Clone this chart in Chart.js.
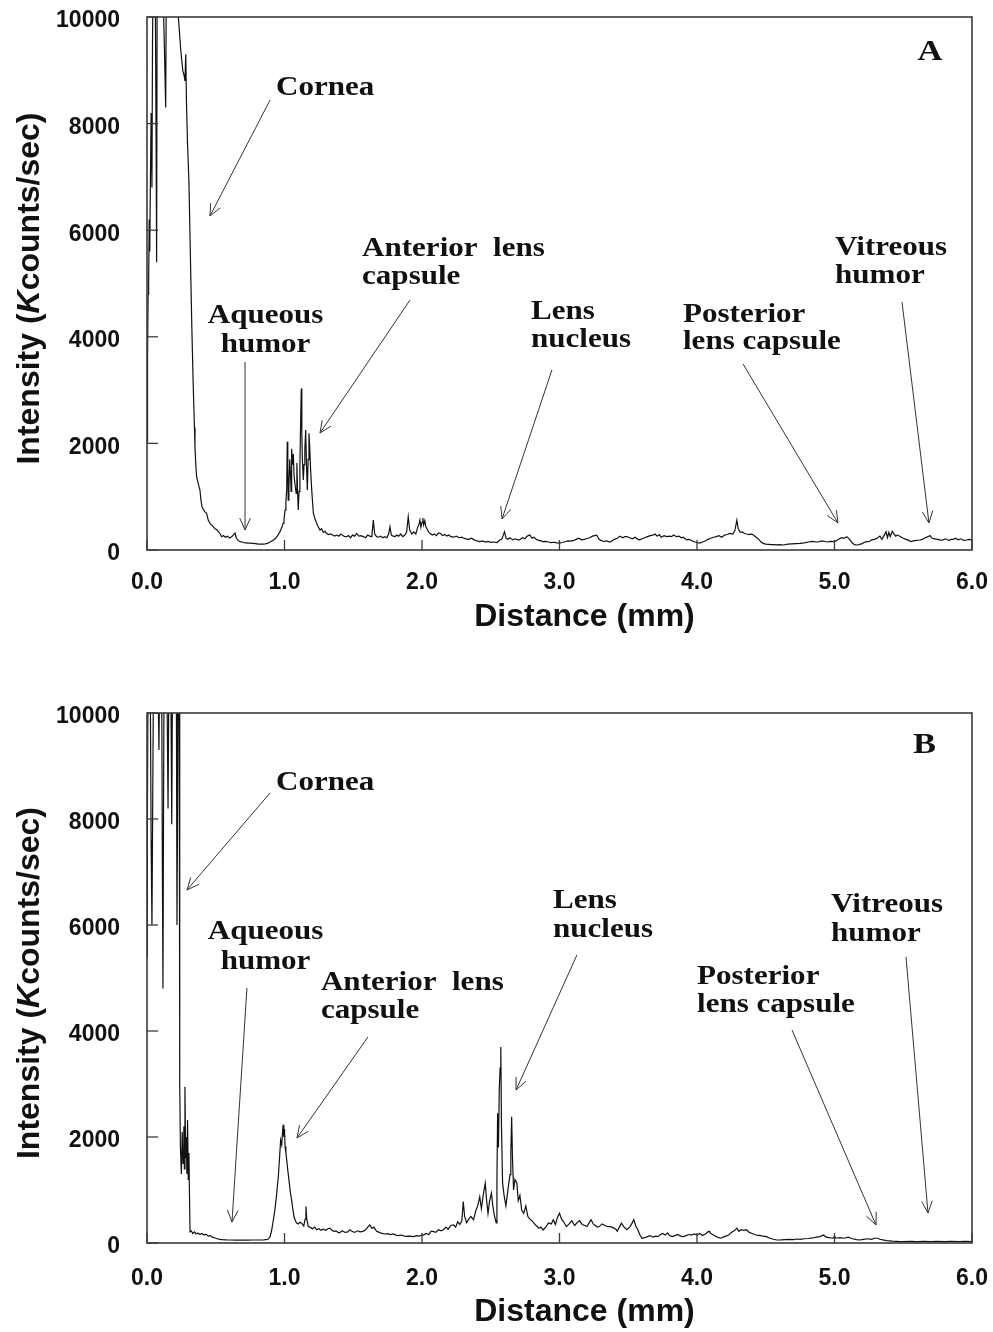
<!DOCTYPE html>
<html>
<head>
<meta charset="utf-8">
<script src="https://cdn.jsdelivr.net/npm/chart.js@4.4.1/dist/chart.umd.min.js"></script>
<style>
  html, body { margin: 0; padding: 0; background: #ffffff; }
  body { width: 993px; height: 1332px; position: relative; overflow: hidden; }
  .panel { position: absolute; left: 0; width: 993px; }
</style>
</head>
<body>
<div class="panel" style="top:0;height:660px"><canvas id="chartA"></canvas></div>
<div class="panel" style="top:665px;height:667px"><canvas id="chartB"></canvas></div>
<script>
// ---------------- DATA ----------------
const xTickLabels = ['0.0', '1.0', '2.0', '3.0', '4.0', '5.0', '6.0'];
const yTickLabels = ['0', '2000', '4000', '6000', '8000', '10000'];
const xTitle = 'Distance (mm)';
const yTitleParts = ['Intensity (', 'K', 'counts/sec)'];

// Panel A: distance (mm)
const distA = [
0.000,0.004,0.008,0.012,0.016,0.020,0.025,0.030,0.036,0.040,0.045,0.050,0.058,0.066,0.070,0.074,0.085,0.100,0.112,0.125,
0.136,0.142,0.160,0.180,0.200,0.215,0.228,0.245,0.260,0.270,0.276,0.282,0.287,0.295,0.305,0.315,0.325,0.335,0.345,0.349,
0.355,0.361,0.372,0.385,0.392,0.400,0.410,0.420,0.434,0.445,0.458,0.470,0.482,0.495,0.508,0.520,0.532,0.543,0.555,0.570,
0.585,0.600,0.615,0.628,0.640,0.650,0.662,0.676,0.690,0.705,0.720,0.735,0.750,0.770,0.790,0.810,0.830,0.845,0.860,0.875,
0.890,0.905,0.920,0.935,0.950,0.967,0.980,0.990,0.996,1.004,1.010,1.016,1.020,1.024,1.027,1.032,1.038,1.044,1.048,1.052,
1.058,1.064,1.070,1.078,1.085,1.090,1.095,1.100,1.106,1.112,1.118,1.122,1.126,1.130,1.137,1.142,1.148,1.154,1.160,1.166,
1.172,1.178,1.184,1.190,1.198,1.204,1.210,1.222,1.234,1.246,1.258,1.270,1.282,1.295,1.307,1.320,1.335,1.350,1.365,1.380,
1.395,1.410,1.425,1.440,1.450,1.465,1.480,1.495,1.510,1.525,1.540,1.555,1.573,1.590,1.605,1.620,1.635,1.646,1.656,1.670,
1.685,1.700,1.715,1.730,1.745,1.757,1.767,1.777,1.790,1.805,1.815,1.830,1.845,1.860,1.875,1.888,1.900,1.910,1.925,1.940,
1.955,1.968,1.978,1.985,1.992,2.000,2.006,2.012,2.020,2.028,2.040,2.050,2.060,2.075,2.090,2.105,2.120,2.135,2.150,2.165,
2.180,2.195,2.210,2.230,2.250,2.270,2.290,2.300,2.320,2.340,2.360,2.380,2.400,2.420,2.440,2.460,2.480,2.500,2.520,2.545,
2.565,2.580,2.600,2.612,2.625,2.640,2.660,2.680,2.695,2.710,2.730,2.750,2.760,2.772,2.785,2.800,2.815,2.830,2.850,2.865,
2.880,2.900,2.920,2.940,2.960,2.980,3.000,3.020,3.040,3.060,3.080,3.100,3.120,3.140,3.160,3.180,3.200,3.220,3.240,3.255,
3.270,3.285,3.300,3.320,3.340,3.367,3.385,3.400,3.420,3.440,3.460,3.475,3.490,3.510,3.530,3.550,3.570,3.585,3.600,3.620,
3.640,3.660,3.680,3.695,3.710,3.725,3.740,3.760,3.780,3.800,3.815,3.830,3.850,3.870,3.885,3.900,3.925,3.945,3.965,3.985,
4.000,4.020,4.040,4.060,4.080,4.100,4.120,4.140,4.160,4.180,4.200,4.220,4.240,4.260,4.275,4.290,4.300,4.315,4.330,4.345,
4.360,4.380,4.395,4.410,4.430,4.450,4.465,4.480,4.500,4.520,4.540,4.560,4.580,4.600,4.630,4.660,4.690,4.720,4.750,4.780,
4.810,4.840,4.870,4.890,4.910,4.930,4.950,4.970,4.990,5.010,5.030,5.050,5.070,5.090,5.110,5.130,5.145,5.160,5.180,5.200,
5.215,5.235,5.255,5.270,5.290,5.310,5.330,5.345,5.360,5.375,5.385,5.395,5.405,5.420,5.430,5.445,5.460,5.480,5.500,5.520,
5.540,5.555,5.575,5.595,5.620,5.640,5.660,5.680,5.695,5.710,5.730,5.750,5.770,5.790,5.810,5.830,5.850,5.865,5.880,5.900,
5.920,5.940,5.960,5.980,6.000
];
// Panel A: intensity (Kcounts/sec)
const intensityA = [
2000,3600,4800,5000,6200,5600,7000,8200,6800,9500,11000,12000,11500,7800,5400,11000,12000,12000,11000,9600,
8300,11500,12000,12000,12000,11500,10000,9400,9000,8900,8800,9300,8400,7600,6900,5600,4300,3200,2300,1930,
1600,1375,1250,1125,950,810,760,720,690,560,500,470,437,400,380,343,300,250,270,240,
260,225,250,280,318,220,180,156,150,140,135,130,130,125,118,112,110,110,115,125,
140,165,187,220,270,343,420,500,562,750,900,1125,2030,1500,937,1200,1700,1400,1100,1900,
1600,1800,1375,1200,1060,1630,1100,750,1100,1600,2500,3030,2200,1700,1313,1600,1900,2250,1600,1125,
1700,2190,1900,1500,1125,900,690,580,500,430,375,400,330,350,310,290,300,280,260,280,
260,300,270,250,250,270,230,280,260,310,260,270,250,230,280,260,250,560,300,250,
240,260,230,250,230,300,437,280,260,250,280,260,300,250,280,330,625,380,300,340,
300,420,480,560,430,520,600,470,550,437,380,330,310,280,300,270,320,310,270,290,
260,280,250,240,260,230,240,225,210,200,220,190,170,156,170,150,160,145,150,140,
187,200,343,220,200,230,190,210,190,190,230,210,250,270,280,220,240,200,180,170,
156,160,150,140,145,135,130,140,155,170,165,175,200,220,190,200,215,230,260,270,
280,210,180,160,170,150,180,200,220,260,230,250,250,230,210,240,200,190,210,230,
250,270,280,300,260,290,240,270,250,260,250,280,250,260,230,240,190,200,170,150,
140,130,150,170,200,220,240,250,270,240,280,290,310,300,360,560,400,330,340,310,
300,290,300,280,240,200,150,125,110,105,100,100,95,100,94,110,115,120,125,135,
150,160,150,156,170,160,150,160,156,170,200,230,220,250,200,130,100,94,100,120,
140,156,160,190,200,220,260,200,270,343,230,330,250,350,310,260,280,250,220,200,
180,156,170,180,187,200,230,250,270,220,210,200,187,190,210,180,200,200,220,190,
210,180,187,200,190
];

// Panel B: distance (mm)
const distB = [
0.000,0.003,0.008,0.015,0.025,0.030,0.036,0.042,0.050,0.065,0.078,0.087,0.095,0.105,0.112,0.116,0.120,0.126,0.140,0.153,
0.160,0.170,0.180,0.186,0.200,0.212,0.218,0.224,0.230,0.234,0.238,0.243,0.250,0.256,0.262,0.268,0.272,0.276,0.281,0.286,
0.290,0.295,0.300,0.305,0.309,0.313,0.322,0.333,0.345,0.357,0.370,0.385,0.400,0.415,0.430,0.445,0.460,0.475,0.490,0.510,
0.530,0.550,0.580,0.610,0.650,0.690,0.730,0.770,0.810,0.850,0.880,0.895,0.907,0.918,0.930,0.942,0.955,0.965,0.972,0.980,
0.986,0.990,0.995,1.000,1.004,1.010,1.016,1.025,1.035,1.043,1.052,1.060,1.069,1.079,1.089,1.100,1.112,1.125,1.140,1.150,
1.156,1.162,1.173,1.190,1.205,1.220,1.234,1.250,1.265,1.280,1.300,1.315,1.330,1.345,1.360,1.375,1.390,1.400,1.420,1.440,
1.460,1.475,1.490,1.510,1.530,1.550,1.570,1.590,1.605,1.620,1.635,1.650,1.670,1.690,1.710,1.730,1.750,1.770,1.790,1.810,
1.830,1.850,1.870,1.890,1.910,1.940,1.960,1.980,2.000,2.010,2.030,2.050,2.065,2.080,2.100,2.120,2.140,2.155,2.175,2.190,
2.210,2.230,2.245,2.260,2.275,2.290,2.300,2.310,2.325,2.340,2.355,2.375,2.390,2.405,2.420,2.432,2.445,2.460,2.470,2.480,
2.492,2.505,2.515,2.528,2.540,2.545,2.550,2.556,2.562,2.568,2.573,2.578,2.586,2.597,2.610,2.620,2.630,2.640,2.646,2.652,
2.658,2.666,2.676,2.690,2.700,2.712,2.725,2.740,2.755,2.770,2.785,2.800,2.815,2.830,2.850,2.865,2.880,2.900,2.920,2.940,
2.955,2.970,2.985,3.000,3.015,3.030,3.050,3.070,3.090,3.110,3.125,3.145,3.165,3.185,3.200,3.215,3.230,3.245,3.260,3.275,
3.290,3.310,3.330,3.350,3.370,3.390,3.410,3.420,3.435,3.450,3.470,3.490,3.510,3.525,3.540,3.555,3.570,3.585,3.600,3.620,
3.640,3.660,3.680,3.700,3.715,3.730,3.750,3.770,3.785,3.800,3.820,3.840,3.860,3.880,3.900,3.920,3.940,3.960,3.980,4.000,
4.020,4.040,4.060,4.080,4.090,4.100,4.120,4.140,4.160,4.175,4.190,4.210,4.230,4.250,4.270,4.290,4.305,4.320,4.340,4.360,
4.380,4.400,4.420,4.435,4.460,4.480,4.505,4.530,4.555,4.580,4.610,4.640,4.670,4.700,4.730,4.750,4.780,4.810,4.840,4.870,
4.895,4.920,4.940,4.960,4.990,5.000,5.010,5.040,5.070,5.100,5.130,5.160,5.185,5.210,5.240,5.270,5.290,5.310,5.330,5.360,
5.380,5.420,5.460,5.500,5.550,5.600,5.650,5.700,5.750,5.800,5.850,5.900,5.950,6.000
];
// Panel B: intensity (Kcounts/sec)
const intensityB = [
5400,8000,11000,12000,10000,7600,6000,8500,12000,12000,11000,9300,12000,12000,7000,4800,8000,12000,12000,8200,
11000,12000,7900,11000,12000,12000,6000,9000,12000,11000,3000,1800,1300,2100,1500,2200,1400,2950,1600,2000,
1300,2320,1200,1700,900,213,230,180,210,170,190,160,180,150,165,130,140,110,100,80,
70,65,60,57,55,57,55,57,57,60,70,120,245,420,620,900,1250,1650,1940,1850,
2100,2230,2000,2150,1820,1700,1570,1350,1130,950,810,650,500,420,375,360,390,375,320,450,
690,450,310,290,270,300,250,270,240,260,240,270,280,240,220,230,200,190,230,200,
210,250,220,200,230,210,220,250,300,340,280,300,220,200,180,170,175,160,170,150,
140,150,130,125,130,120,140,130,150,150,180,160,220,220,200,250,230,250,300,260,
330,340,300,400,350,420,780,500,380,450,500,440,600,700,870,650,900,1130,800,560,
800,940,700,500,380,1200,2450,1800,2900,3300,3700,2200,1130,900,700,900,1100,1290,1700,2380,
1600,1000,1200,1130,800,900,620,560,700,500,450,420,370,330,280,300,245,300,380,360,
440,350,480,560,450,400,310,360,420,330,375,420,350,330,310,380,440,360,330,300,
310,360,330,310,310,290,260,220,300,375,300,250,300,360,440,320,250,150,90,100,
120,140,110,130,120,150,180,150,190,140,120,140,160,130,120,140,160,150,170,150,
180,140,170,210,220,180,150,120,100,90,110,130,150,200,230,280,220,250,240,250,
200,180,160,150,140,130,120,90,70,57,60,65,70,65,75,70,80,85,95,110,
120,150,110,100,90,130,90,100,90,110,80,65,57,70,80,70,90,90,70,55,
45,35,30,28,30,25,30,28,30,25,30,28,30,28
];

// Annotation texts (positions in data units: distance, intensity)
const annotationsA = [
  { lines: ['Cornea'], x: 0.938, ys: [8667], align: 'left', arrow: [0.895, 8442, 0.458, 6266] },
  { lines: ['Aqueous', 'humor'], x: 0.862, ys: [4390, 3846], align: 'center', arrow: [0.713, 3527, 0.713, 375] },
  { lines: ['Anterior  lens', 'capsule'], x: 1.564, ys: [5647, 5121], align: 'left', arrow: [1.913, 4690, 1.258, 2195] },
  { lines: ['Lens', 'nucleus'], x: 2.793, ys: [4465, 3940], align: 'left', arrow: [2.945, 3377, 2.582, 582] },
  { lines: ['Posterior', 'lens capsule'], x: 3.898, ys: [4409, 3902], align: 'left', arrow: [4.335, 3489, 5.025, 507] },
  { lines: ['Vitreous', 'humor'], x: 5.004, ys: [5666, 5140], align: 'left', arrow: [5.491, 4652, 5.687, 507] }
];
const annotationsB = [
  { lines: ['Cornea'], x: 0.938, ys: [8680], align: 'left', arrow: [0.895, 8492, 0.291, 6661] },
  { lines: ['Aqueous', 'humor'], x: 0.862, ys: [5869, 5302], align: 'center', arrow: [0.727, 4812, 0.618, 396] },
  { lines: ['Anterior  lens', 'capsule'], x: 1.265, ys: [4906, 4378], align: 'left', arrow: [1.607, 3887, 1.091, 1981] },
  { lines: ['Lens', 'nucleus'], x: 2.953, ys: [6454, 5906], align: 'left', arrow: [3.127, 5435, 2.684, 2887] },
  { lines: ['Posterior', 'lens capsule'], x: 4.000, ys: [5019, 4491], align: 'left', arrow: [4.691, 4019, 5.302, 340] },
  { lines: ['Vitreous', 'humor'], x: 4.975, ys: [6378, 5831], align: 'left', arrow: [5.520, 5397, 5.680, 566] }
];
const panelLetterA = { text: 'A', x: 5.695, y: 9342 };
const panelLetterB = { text: 'B', x: 5.655, y: 9397 };

// ---------------- DRAWING ----------------
const SANS = "'Liberation Sans', Arial, sans-serif";
const SERIF = "'Liberation Serif', 'Times New Roman', serif";
const INK = '#111111';

function drawArrow(ctx, x1, y1, x2, y2) {
  ctx.beginPath(); ctx.moveTo(x1, y1); ctx.lineTo(x2, y2); ctx.stroke();
  const a = Math.atan2(y2 - y1, x2 - x1), L = 13, w = 0.42;
  ctx.beginPath();
  ctx.moveTo(x2 - L * Math.cos(a - w), y2 - L * Math.sin(a - w));
  ctx.lineTo(x2, y2);
  ctx.lineTo(x2 - L * Math.cos(a + w), y2 - L * Math.sin(a + w));
  ctx.stroke();
}
function stretchedText(ctx, text, x, y, align, sx) {
  ctx.save();
  ctx.translate(x, y);
  ctx.scale(sx, 1);
  ctx.textAlign = align;
  ctx.textBaseline = 'middle';
  ctx.fillText(text, 0, 0);
  ctx.restore();
}

function decorPlugin(cfg) {
  return {
    id: 'decor',
    afterDraw(chart) {
      const { ctx, chartArea } = chart;
      const { left, right, top, bottom } = chartArea;
      const xs = chart.scales.x, ys = chart.scales.y;
      ctx.save();
      // frame
      ctx.strokeStyle = '#3a3a3a';
      ctx.lineWidth = 1.6;
      ctx.strokeRect(left, top, right - left, bottom - top);
      // inward tick marks
      ctx.lineWidth = 1.3;
      xs.ticks.forEach(t => {
        const px = xs.getPixelForValue(t.value);
        ctx.beginPath(); ctx.moveTo(px, bottom); ctx.lineTo(px, bottom - 10); ctx.stroke();
      });
      ys.ticks.forEach(t => {
        const py = ys.getPixelForValue(t.value);
        ctx.beginPath(); ctx.moveTo(left, py); ctx.lineTo(left + 11, py); ctx.stroke();
      });
      // x title
      ctx.fillStyle = INK;
      ctx.font = `bold 32px ${SANS}`;
      ctx.textAlign = 'center';
      ctx.textBaseline = 'middle';
      ctx.fillText(xTitle, (left + right) / 2 + 25, bottom + cfg.xTitleOffset);
      // y title with italic K
      const fonts = [`bold 32px ${SANS}`, `italic bold 32px ${SANS}`, `bold 32px ${SANS}`];
      let widths = yTitleParts.map((p, i) => { ctx.font = fonts[i]; return ctx.measureText(p).width; });
      const total = widths.reduce((a, b) => a + b, 0);
      ctx.save();
      ctx.translate(30, (top + bottom) / 2 + 5);
      ctx.rotate(-Math.PI / 2);
      ctx.textAlign = 'left';
      let cx = -total / 2;
      yTitleParts.forEach((p, i) => { ctx.font = fonts[i]; ctx.fillText(p, cx, 0); cx += widths[i]; });
      ctx.restore();
      // annotations
      ctx.font = `bold 27px ${SERIF}`;
      ctx.fillStyle = INK;
      ctx.strokeStyle = '#333333';
      ctx.lineWidth = 1;
      cfg.annotations.forEach(an => {
        const tx = xs.getPixelForValue(an.x);
        an.lines.forEach((ln, i) => {
          stretchedText(ctx, ln, tx, ys.getPixelForValue(an.ys[i]), an.align, 1.15);
        });
        const [a1, b1, a2, b2] = an.arrow;
        drawArrow(ctx, xs.getPixelForValue(a1), ys.getPixelForValue(b1), xs.getPixelForValue(a2), ys.getPixelForValue(b2));
      });
      ctx.font = `bold 30px ${SERIF}`;
      stretchedText(ctx, cfg.letter.text, xs.getPixelForValue(cfg.letter.x), ys.getPixelForValue(cfg.letter.y), 'center', 1.15);
      ctx.restore();
    }
  };
}

function makeChart(id, dist, vals, cfg) {
  const points = dist.map((d, i) => ({ x: d, y: vals[i] }));
  const tickFont = { family: SANS, weight: 'bold', size: 23 };
  return new Chart(document.getElementById(id), {
    type: 'line',
    data: { datasets: [{ data: points, borderColor: INK, borderWidth: 1.2, pointRadius: 0, tension: 0, fill: false }] },
    options: {
      responsive: true,
      maintainAspectRatio: false,
      animation: false,
      events: [],
      layout: { padding: { top: cfg.padTop, right: 21, left: 0, bottom: 0 } },
      plugins: { legend: { display: false }, tooltip: { enabled: false } },
      scales: {
        x: {
          type: 'linear', min: 0, max: 6,
          grid: { display: false, drawTicks: true, tickLength: cfg.tickGap },
          border: { display: false },
          ticks: { stepSize: 1, padding: 2, color: INK, font: tickFont, maxRotation: 0, autoSkip: false,
                   callback: v => xTickLabels[Math.round(v)] },
          afterFit: s => { s.height = cfg.axisHeight; }
        },
        y: {
          type: 'linear', min: 0, max: 10000,
          grid: { display: false, drawTicks: true, tickLength: 24 },
          border: { display: false },
          ticks: { stepSize: 2000, padding: 3, labelOffset: 4, color: INK, font: tickFont,
                   callback: v => yTickLabels[Math.round(v / 2000)] },
          afterFit: s => { s.width = 147; }
        }
      }
    },
    plugins: [decorPlugin(cfg)]
  });
}

makeChart('chartA', distA, intensityA, {
  padTop: 17, axisHeight: 110, tickGap: 17, xTitleOffset: 67,
  annotations: annotationsA, letter: panelLetterA
});
makeChart('chartB', distB, intensityB, {
  padTop: 48, axisHeight: 89, tickGap: 20, xTitleOffset: 69,
  annotations: annotationsB, letter: panelLetterB
});
</script>
</body>
</html>
